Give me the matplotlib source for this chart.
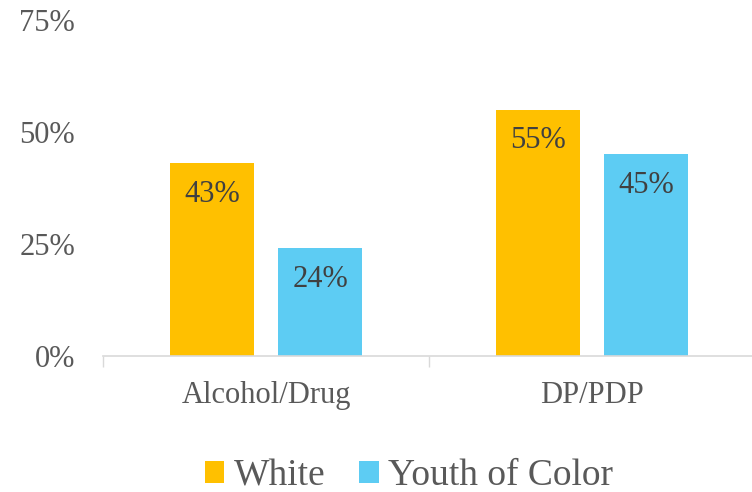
import matplotlib
matplotlib.use("Agg")
import matplotlib.pyplot as plt
import numpy as np
from matplotlib.ticker import FixedLocator, NullFormatter

categories = ["Alcohol/Drug", "DP/PDP"]
series_names = ["White", "Youth of Color"]
white = [43, 55]
youth = [24, 45]
yticks = [0, 25, 50, 75]
colors = ["#FFC000", "#5DCCF3"]

plt.rcParams['font.family'] = ['Liberation Serif', 'DejaVu Serif']
txt = "#595959"

fig = plt.figure(figsize=(7.52, 4.92), dpi=100)
ax = fig.add_axes([103/752, 136/492, 652/752, 336/492])

x = np.arange(len(categories))
w = 0.26
off = 0.166
vals = [white, youth]
for i, (name, v, c) in enumerate(zip(series_names, vals, colors)):
    pos = x + (off if i else -off)
    bars = ax.bar(pos, v, width=w, color=c, label=name, zorder=2)
    for b, val in zip(bars, v):
        ax.text(b.get_x() + b.get_width()/2, val - 7.0, f"{val}%",
                ha="center", va="center", fontsize=22, color="#404040", zorder=3)

ax.set_xlim(-0.5, 1.5)
ax.set_ylim(0, 75)
ax.set_yticks(yticks)
ax.set_yticklabels([f"{t}%" for t in yticks], fontsize=22, color=txt)
ax.tick_params(axis='y', length=0, pad=20)

ax.xaxis.set_major_locator(FixedLocator([-0.5, 0.5, 1.5]))
ax.xaxis.set_major_formatter(NullFormatter())
ax.xaxis.set_minor_locator(FixedLocator(list(x)))
ax.set_xticklabels(categories, minor=True, fontsize=22, color=txt)
ax.tick_params(axis='x', which='major', length=8, color="#d9d9d9", width=1)
ax.tick_params(axis='x', which='minor', length=0, pad=18)

for s in ["top", "right", "left"]:
    ax.spines[s].set_visible(False)
ax.spines["bottom"].set_color("#d9d9d9")
ax.spines["bottom"].set_linewidth(1.2)

leg = fig.legend(loc="center", bbox_to_anchor=(409/752, 1 - 476/492), ncol=2,
                 frameon=False, fontsize=27, handlelength=0.52, handleheight=0.52,
                 handletextpad=0.25, columnspacing=0.9)
for t in leg.get_texts():
    t.set_color(txt)

fig.savefig("out.png", dpi=100)
